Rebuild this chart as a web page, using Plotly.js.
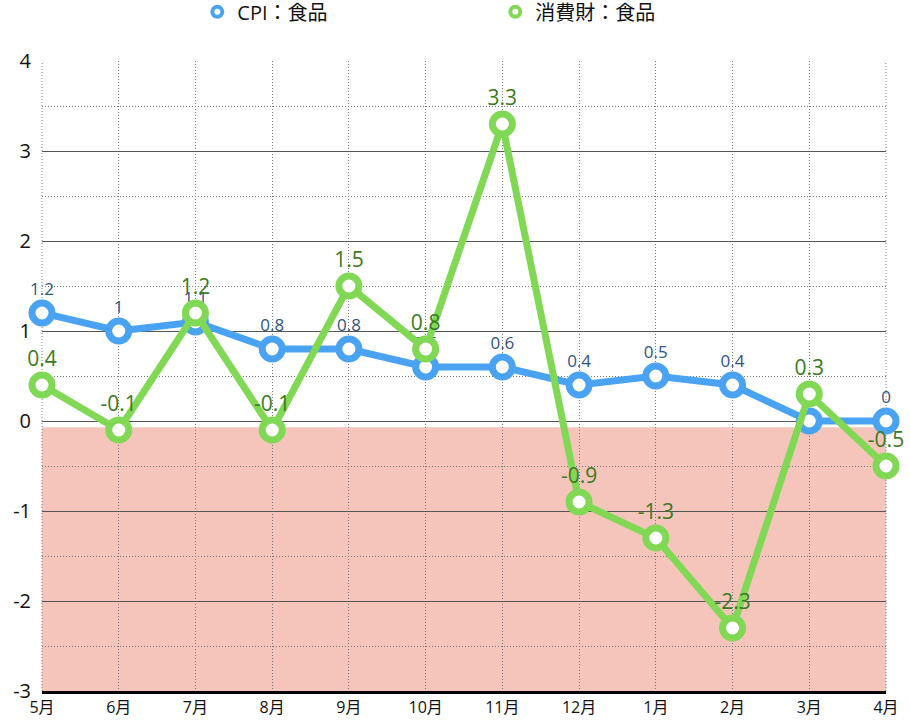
<!DOCTYPE html>
<html>
<head>
<meta charset="utf-8">
<script src="https://cdn.plot.ly/plotly-3.0.1.min.js"></script>
<style>body{margin:0;background:#fff}#chart{width:910px;height:720px}</style>
</head>
<body>
<div id="chart"></div>
<script>
const months = ["5月", "6月", "7月", "8月", "9月", "10月", "11月", "12月", "1月", "2月", "3月", "4月"];
const cpiFood = [1.2, 1, 1.1, 0.8, 0.8, 0.6, 0.6, 0.4, 0.5, 0.4, 0, 0];
const goodsFood = [0.4, -0.1, 1.2, -0.1, 1.5, 0.8, 3.3, -0.9, -1.3, -2.3, 0.3, -0.5];
const yTicks = [-3, -2, -1, 0, 1, 2, 3, 4];

const font = "'Open Sans', 'Noto Sans CJK JP', sans-serif";
const blue = "#4aa3f2", green = "#80d854";

function series(name, vals, color, labelColor, labelSize) {
  return {
    x: months, y: vals, name: name, showlegend: false,
    type: "scatter", mode: "lines+markers+text",
    text: vals.map(String), textposition: "top center",
    textfont: { size: labelSize, color: labelColor, family: font },
    line: { color: color, width: 7 },
    marker: { size: 20, color: "#fff", line: { color: color, width: 7 } },
    cliponaxis: false
  };
}

// legend entries: marker only
function legendItem(name, color) {
  return {
    x: [null], y: [null], name: name, type: "scatter", mode: "markers",
    marker: { size: 10, color: "#fff", line: { color: color, width: 4 } }
  };
}

const traces = [
  series("CPI：食品", cpiFood, blue, "#2f5584", 17),
  series("消費財：食品", goodsFood, green, "#3a7a22", 21),
  legendItem("CPI：食品", blue),
  legendItem("消費財：食品", green)
];

const layout = {
  width: 910, height: 720,
  margin: { l: 42, r: 24, t: 61, b: 29, autoexpand: false },
  paper_bgcolor: "#fff", plot_bgcolor: "#fff",
  font: { family: font, color: "#111" },
  showlegend: true,
  legend: {
    orientation: "h", x: 0.184, xanchor: "left", y: 1.078, yanchor: "middle",
    font: { size: 20, color: "#111" }, traceorder: "normal",
    entrywidth: 253, itemwidth: 30
  },
  xaxis: {
    type: "category", range: [0, 11],
    showgrid: true, gridcolor: "#777", griddash: "1px,2px", gridwidth: 1,
    showline: true, linecolor: "#000", linewidth: 3,
    ticks: "", tickfont: { size: 16 }, zeroline: false
  },
  yaxis: {
    range: [-3, 4], tickvals: yTicks, ticktext: yTicks.map(String),
    showgrid: true, gridcolor: "#555", gridwidth: 1,
    minor: { dtick: 0.5, showgrid: true, gridcolor: "#777", griddash: "1px,2px", gridwidth: 1 },
    zeroline: false, showline: false, ticks: "",
    tickfont: { size: 20 }, ticklabelstandoff: 10
  },
  shapes: [
    { type: "rect", xref: "paper", yref: "y", x0: 0, x1: 1, y0: -3, y1: -0.07,
      fillcolor: "#f5c5bc", line: { width: 0 }, layer: "below" },
    { type: "line", xref: "paper", yref: "paper", x0: 0, x1: 0, y0: 0, y1: 1,
      line: { color: "#777", width: 1, dash: "1px,2px" }, layer: "below" },
    { type: "line", xref: "paper", yref: "paper", x0: 1, x1: 1, y0: 0, y1: 1,
      line: { color: "#777", width: 1, dash: "1px,2px" }, layer: "below" }
  ]
};

Plotly.newPlot("chart", traces, layout, { displayModeBar: false, staticPlot: true });
</script>
</body>
</html>
